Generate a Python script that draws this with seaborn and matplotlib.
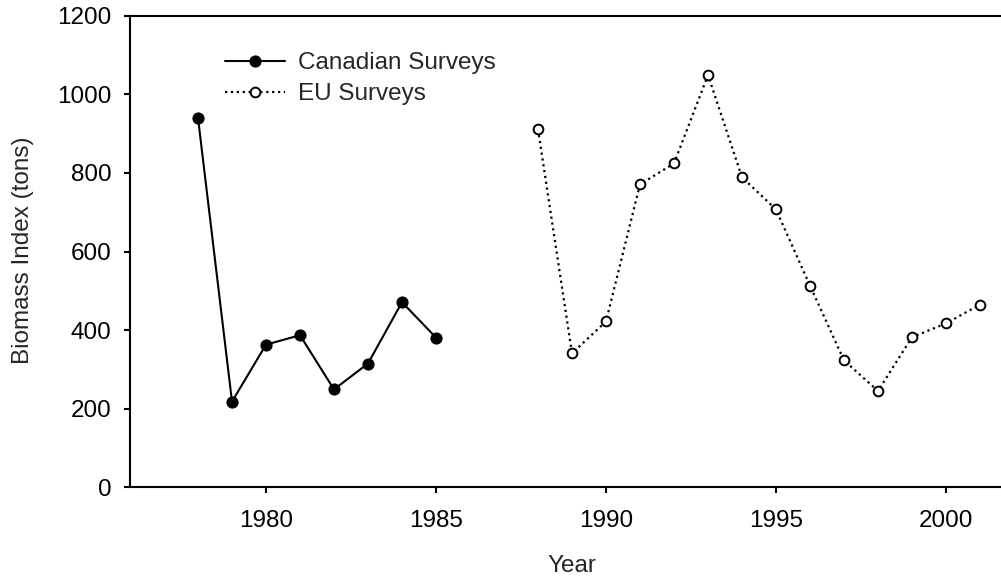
import numpy as np
import pandas as pd
import seaborn as sns
from matplotlib import pyplot as plt

can_years = [1978, 1979, 1980, 1981, 1982, 1983, 1984, 1985]
can_biomass = [940, 218, 363, 387, 249, 315, 471, 381]

eu_years = [1988, 1989, 1990, 1991, 1992, 1993, 1994, 1995, 1996, 1997,
            1998, 1999, 2000, 2001]
eu_biomass = [911, 341, 422, 771, 824, 1049, 789, 707, 513, 323,
              245, 382, 417, 465]

can = pd.DataFrame({'Year': can_years, 'Biomass': can_biomass})
eu = pd.DataFrame({'Year': eu_years, 'Biomass': eu_biomass})

sns.set_style('ticks')
plt.rcParams['font.family'] = ['Liberation Sans', 'DejaVu Sans']
fs = 17.5

fig = plt.figure(figsize=(10.01, 5.84), dpi=100)
# axes runs off the right edge on purpose, like the original crop
ax = fig.add_axes([130 / 1001, 1 - 487.3 / 584, 884 / 1001, 471.6 / 584])

sns.lineplot(data=can, x='Year', y='Biomass', ax=ax, color='black',
             linewidth=1.5, marker='o', markersize=8,
             markerfacecolor='black', markeredgecolor='black',
             label='Canadian Surveys')
sns.lineplot(data=eu, x='Year', y='Biomass', ax=ax, color='black',
             linewidth=1.6, linestyle=':', marker='o', markersize=7,
             markerfacecolor='white', markeredgecolor='black',
             markeredgewidth=1.4, label='EU Surveys')

ax.set_xlim(1976, 2002)
ax.set_ylim(0, 1200)
ax.set_xticks([1980, 1985, 1990, 1995, 2000])
ax.set_yticks(np.arange(0, 1201, 200))

for sp in ax.spines.values():
    sp.set_linewidth(1.5)
    sp.set_color('black')
ax.tick_params(direction='out', length=4.5, width=1.5, colors='black',
               labelsize=fs)
ax.tick_params(axis='x', pad=11.5)
ax.tick_params(axis='y', pad=9)

ax.set_xlabel('Year', fontsize=fs, labelpad=17)
ax.set_ylabel('Biomass Index (tons)', fontsize=fs)
ax.yaxis.set_label_coords(34 / 1001, 0.5, transform=fig.transFigure)
ax.yaxis.label.set_y(1 - 250 / 584)

ax.legend(loc='upper left', bbox_to_anchor=(225 / 1001, 1 - 52 / 584),
          bbox_transform=fig.transFigure, frameon=False, fontsize=fs,
          handlelength=2.45, handletextpad=0.55, labelspacing=0.37,
          borderpad=0, borderaxespad=0)

fig.savefig('out.png', dpi=100)
